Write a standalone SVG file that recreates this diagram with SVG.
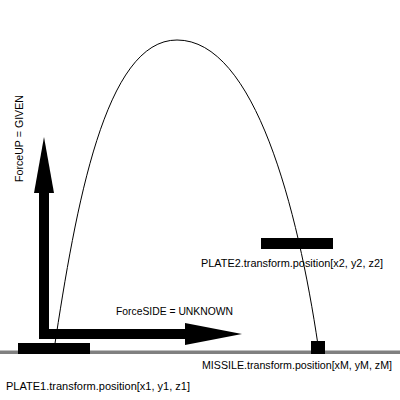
<svg xmlns="http://www.w3.org/2000/svg" width="400" height="400" viewBox="0 0 400 400">
<style>
.lbl{font-family:"Liberation Sans",Arial,sans-serif;font-size:11.5px;fill:#000}
.plate{fill:#000}
</style>
<rect width="400" height="400" fill="#fff"/>
<rect id="ground" x="0" y="350.5" width="400" height="3.5" fill="#808080"/>
<g id="trajectory">
<path d="M54,350 C76,205 105,40 177,40 C255,40 298,210 318,345" fill="none" stroke="#000" stroke-width="1"/>
</g>
<g id="connectors">
<g id="forceUP">
<rect x="39" y="190" width="10" height="149" fill="#000"/>
<polygon points="44,137 54,193 34,193" fill="#000"/>
</g>
<g id="forceSIDE">
<rect x="39" y="329" width="148" height="10" fill="#000"/>
<polygon points="242,334 185,323 185,345" fill="#000"/>
</g>
</g>
<g id="plate1">
<rect class="plate" x="18" y="343" width="72" height="11"/>
<text class="lbl" x="6" y="390" textLength="184" lengthAdjust="spacingAndGlyphs">PLATE1.transform.position[x1, y1, z1]</text>
</g>
<g id="plate2">
<rect class="plate" x="261" y="238" width="72" height="11"/>
<text class="lbl" x="201" y="267" textLength="182" lengthAdjust="spacingAndGlyphs">PLATE2.transform.position[x2, y2, z2]</text>
</g>
<g id="missile">
<rect class="plate" x="311" y="341" width="14" height="13"/>
<text class="lbl" x="202" y="369" style="font-size:10.3px" textLength="190" lengthAdjust="spacingAndGlyphs">MISSILE.transform.position[xM, yM, zM]</text>
</g>
<g id="labels">
<text class="lbl" x="116" y="315" textLength="117" lengthAdjust="spacingAndGlyphs">ForceSIDE = UNKNOWN</text>
<text class="lbl" transform="translate(23,182) rotate(-90)" x="0" y="0" textLength="87" lengthAdjust="spacingAndGlyphs">ForceUP = GIVEN</text>
</g>
</svg>
